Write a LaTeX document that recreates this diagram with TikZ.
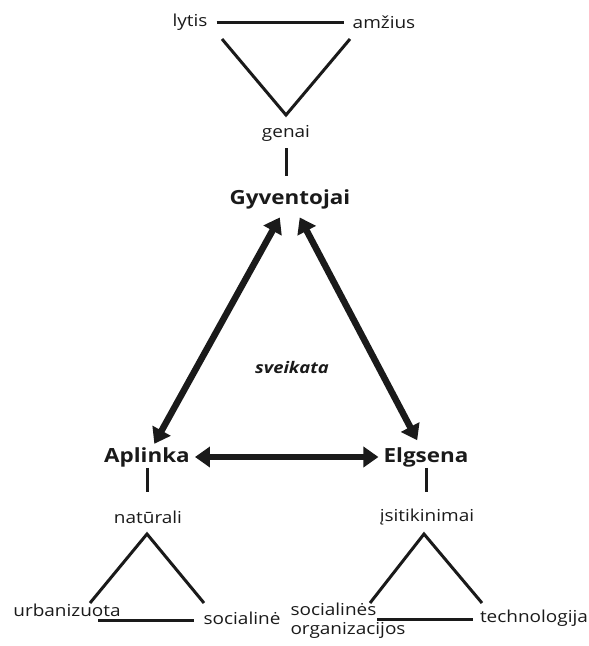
\documentclass[tikz,border=0pt]{standalone}
\usepackage{fontspec}
\setmainfont[FakeStretch=1.15]{Open Sans}
\usepackage{xcolor}
\usetikzlibrary{arrows.meta}
\definecolor{ink}{HTML}{1A1A1A}

\tikzset{
  lbl/.style={font=\fontsize{16.5}{19}\selectfont, text=ink, inner sep=1pt},
  hub/.style={font=\fontsize{19.5}{22}\selectfont\bfseries, text=ink, inner sep=5pt},
  link/.style={draw=ink, line width=3pt},
  flow/.style={draw=ink, line width=6.5pt, {Triangle[length=15pt,width=20pt]}-{Triangle[length=15pt,width=20pt]}}
}

\begin{document}
\begin{tikzpicture}[x=1pt, y=-1pt]
  \useasboundingbox (0,0) rectangle (589,646);

  % Top: population factors
  \node[lbl] (lytis) at (190,22) {lytis};
  \node[lbl] (amzius) at (384,22) {amžius};
  \node[lbl] (genai) at (286,133) {genai};
  \coordinate (vleft) at (222,39);
  \coordinate (vright) at (350,39);
  \coordinate (vtip) at (286,115);
  \draw[link] ([xshift=8pt]lytis.east) -- ([xshift=-8pt]amzius.west);
  \draw[link] (vleft) -- (vtip) -- (vright);
  \draw[link] ([yshift=-6pt]genai.south) -- ++(0,28);

  % Main triangle
  \node[hub] (gyv) at (290,199) {Gyventojai};
  \node[hub] (aplinka) at (147,457) {Aplinka};
  \node[hub] (elgsena) at (426,457) {Elgsena};
  \node[font=\fontsize{16}{18}\selectfont\bfseries\itshape, text=ink] (sveikata) at (292,367) {sveikata};
  \draw[flow, shorten <=4pt, shorten >=-2pt] (gyv) -- (aplinka);
  \draw[flow, shorten <=4pt, shorten >=2pt] (gyv) -- (elgsena);
  \draw[flow] (aplinka) -- (elgsena);

  % Left: environment
  \node[lbl] (naturali) at (148,517) {natūrali};
  \draw[link] ([yshift=4pt]aplinka.south) -- ++(0,24);
  \node[lbl] (urban) at (67,610) {urbanizuota};
  \node[lbl] (socialine) at (242,618) {socialinė};
  \coordinate (lapex) at (147,534);
  \draw[link] (90,603) -- (lapex) -- (204,603);
  \draw[link] (98,620) -- (194,620);

  % Right: behaviour
  \node[lbl, align=left] (socorg) at (348,621) {socialinės\\organizacijos};
  \node[lbl] (isitikinimai) at (427,517) {įsitikinimai};
  \draw[link] ([yshift=4pt]elgsena.south) -- ++(0,24);
  \node[lbl] (techno) at (534,618) {technologija};
  \coordinate (rapex) at (424,534);
  \draw[link] (370,603) -- (rapex) -- (482,603);
  \draw[link] (377,619) -- (473,619);
\end{tikzpicture}
\end{document}
